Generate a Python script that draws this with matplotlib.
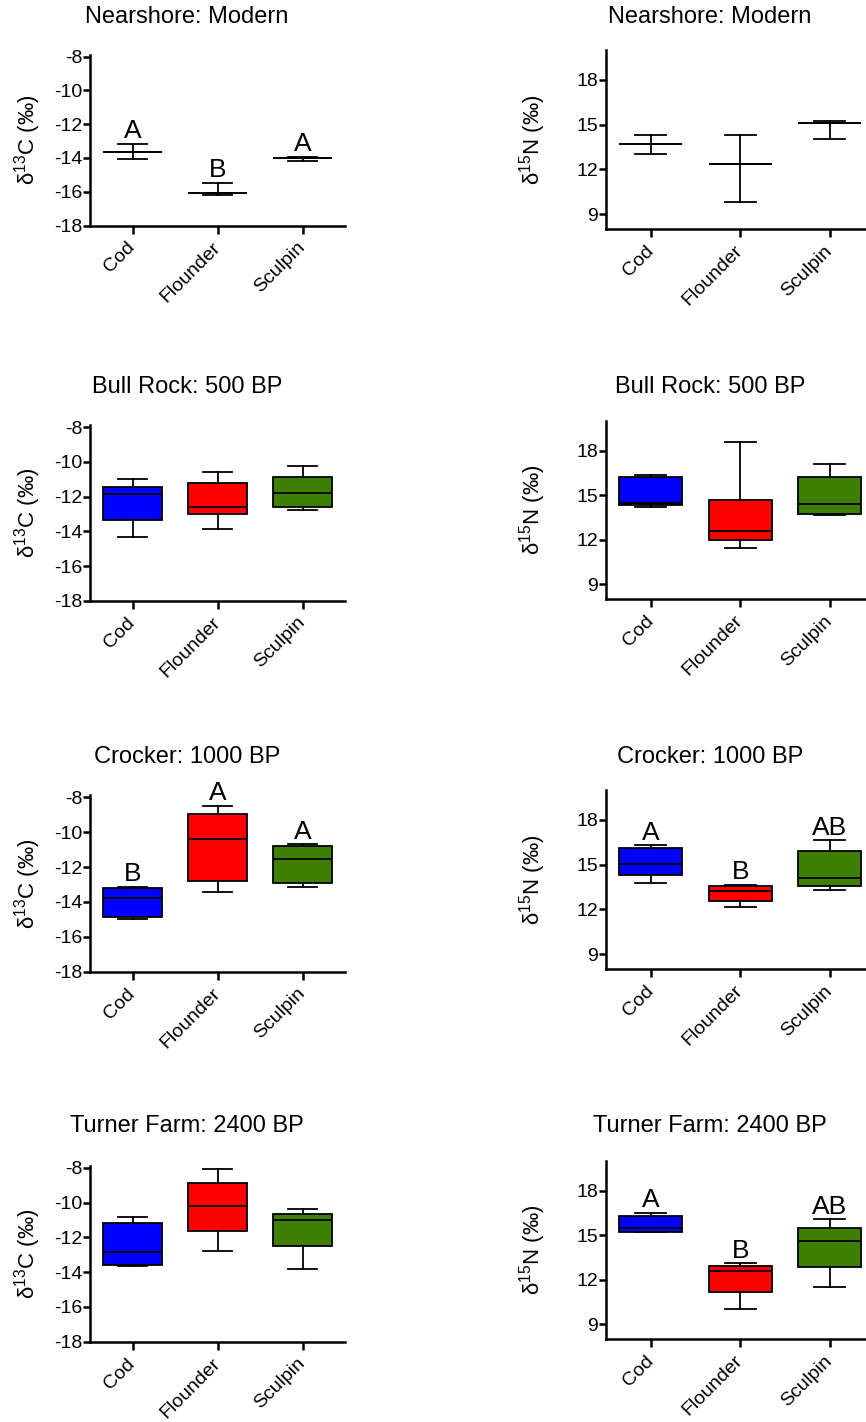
import matplotlib
matplotlib.use("Agg")
import matplotlib.pyplot as plt

plt.rcParams.update({
    "font.family": ["Liberation Sans", "DejaVu Sans"],
    "mathtext.default": "regular",
    "axes.unicode_minus": False,
})

W, H = 866, 1422

SPECIES = ["Cod", "Flounder", "Sculpin"]
COLORS = ["#0000ff", "#ff0000", "#3f7f00"]

# per species: [whisker low, q1, median, q3, whisker high]
nearshore_c13 = [[-14.08, -13.62, -13.62, -13.62, -13.17],
                 [-16.17, -16.05, -16.05, -16.05, -15.46],
                 [-14.20, -13.98, -13.98, -13.98, -13.92]]
nearshore_n15 = [[13.05, 13.68, 13.68, 13.68, 14.28],
                 [9.81, 12.38, 12.38, 12.38, 14.31],
                 [14.01, 15.09, 15.09, 15.09, 15.22]]
bullrock_c13 = [[-14.31, -13.35, -11.85, -11.42, -10.96],
                [-13.88, -13.02, -12.58, -11.23, -10.56],
                [-12.77, -12.62, -11.79, -10.87, -10.23]]
bullrock_n15 = [[14.22, 14.33, 14.49, 16.20, 16.33],
                [11.47, 11.99, 12.58, 14.67, 18.59],
                [13.65, 13.70, 14.42, 16.22, 17.08]]
crocker_c13 = [[-15.00, -14.88, -13.79, -13.18, -13.14],
               [-13.43, -12.80, -10.41, -8.98, -8.50],
               [-13.16, -12.89, -11.54, -10.79, -10.70]]
crocker_n15 = [[13.79, 14.28, 15.04, 16.12, 16.28],
               [12.18, 12.54, 13.23, 13.59, 13.66],
               [13.30, 13.55, 14.07, 15.93, 16.64]]
turner_c13 = [[-13.63, -13.57, -12.87, -11.18, -10.82],
              [-12.81, -11.64, -10.18, -8.86, -8.06],
              [-13.82, -12.48, -11.01, -10.65, -10.38]]
turner_n15 = [[15.19, 15.23, 15.50, 16.31, 16.52],
              [10.03, 11.14, 12.56, 12.89, 13.09],
              [11.52, 12.87, 14.61, 15.49, 16.07]]

nearshore_c13_letters = ["A", "B", "A"]
crocker_c13_letters = ["B", "A", "A"]
crocker_n15_letters = ["A", "B", "AB"]
turner_n15_letters = ["A", "B", "AB"]

TITLES = ["Nearshore: Modern", "Bull Rock: 500 BP", "Crocker: 1000 BP", "Turner Farm: 2400 BP"]
C13_ROWS = [nearshore_c13, bullrock_c13, crocker_c13, turner_c13]
N15_ROWS = [nearshore_n15, bullrock_n15, crocker_n15, turner_n15]
C13_LETTERS = [nearshore_c13_letters, None, crocker_c13_letters, None]
N15_LETTERS = [None, None, crocker_n15_letters, turner_n15_letters]
FILLED = [False, True, True, True]

# ── layout in pixels (top, bottom) ────────────────────────────────────────────
LEFT_X = (90, 345)
RIGHT_X = (606, 874.5)
LEFT_Y = [(55, 225.5), (425.5, 600.7), (795.5, 971.7), (1166, 1341.7)]
RIGHT_Y = [(50, 229), (421, 599), (790, 969), (1161, 1339)]
TITLE_Y = [17, 387, 757, 1126]

fig = plt.figure(figsize=(W / 100, H / 100), dpi=100)


def add_axes_px(xr, yr):
    x0, x1 = xr
    top, bottom = yr
    return fig.add_axes([x0 / W, 1 - bottom / H, (x1 - x0) / W, (bottom - top) / H])


def draw_panel(ax, data, filled, letters, ylim, yticks, ylabel, label_x):
    stats = []
    for name, (lo, q1, med, q3, hi) in zip(SPECIES, data):
        stats.append(dict(label=name, whislo=lo, q1=q1, med=med, q3=q3, whishi=hi, fliers=[]))
    bp = ax.bxp(stats, positions=range(3), widths=0.7, capwidths=0.35, showfliers=False,
                patch_artist=True,
                boxprops=dict(linewidth=1.3, edgecolor="black"),
                medianprops=dict(color="black", linewidth=1.3),
                whiskerprops=dict(color="black", linewidth=1.3),
                capprops=dict(color="black", linewidth=1.3))
    for patch, col in zip(bp["boxes"], COLORS):
        patch.set_facecolor(col if filled else "none")
    if letters:
        for i, (let, row) in enumerate(zip(letters, data)):
            ax.annotate(let, (i, row[4]), xytext=(0, 4), textcoords="offset points",
                        ha="center", va="baseline", fontsize=19)

    ax.set_xlim(-0.5, 2.5)
    ax.set_ylim(*ylim)
    ax.set_yticks(yticks)
    ax.set_yticklabels([str(t) for t in yticks])
    ax.set_xticks(range(3))
    ax.set_xticklabels(SPECIES, rotation=45, ha="right", va="center",
                       rotation_mode="anchor", fontsize=14)
    ax.tick_params(axis="x", length=6, width=1.8, pad=8)
    ax.tick_params(axis="y", length=5, width=1.8, labelsize=14, pad=0.5)
    for side in ("top", "right"):
        ax.spines[side].set_visible(False)
    for side in ("left", "bottom"):
        ax.spines[side].set_linewidth(1.8)
    ax.set_ylabel(ylabel, fontsize=16, va="center")
    ax.yaxis.set_label_coords(label_x, 0.5)


for r in range(4):
    axl = add_axes_px(LEFT_X, LEFT_Y[r])
    draw_panel(axl, C13_ROWS[r], FILLED[r], C13_LETTERS[r], (-18, -7.9),
               [-18, -16, -14, -12, -10, -8], "δ$^{13}$C (‰)", -0.245)
    axr = add_axes_px(RIGHT_X, RIGHT_Y[r])
    draw_panel(axr, N15_ROWS[r], FILLED[r], N15_LETTERS[r], (8, 20),
               [9, 12, 15, 18], "δ$^{15}$N (‰)", -0.274)
    fig.text(187 / W, 1 - TITLE_Y[r] / H, TITLES[r], ha="center", va="center", fontsize=17)
    fig.text(710 / W, 1 - TITLE_Y[r] / H, TITLES[r], ha="center", va="center", fontsize=17)

fig.savefig("out.png", dpi=100, facecolor="white")
